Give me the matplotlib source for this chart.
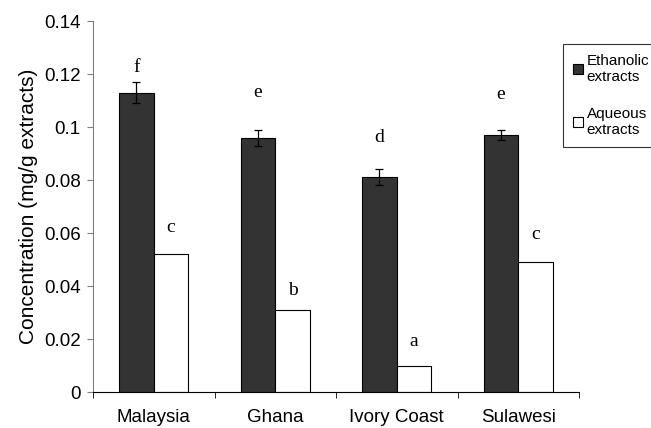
import numpy as np
import matplotlib.pyplot as plt
from matplotlib.patches import Rectangle
from matplotlib.legend_handler import HandlerPatch
from matplotlib.ticker import FixedLocator

# Concentration by origin, mg/g extracts
origins = ['Malaysia', 'Ghana', 'Ivory Coast', 'Sulawesi']
ethanolic = [0.113, 0.096, 0.081, 0.097]
ethanolic_err = [0.004, 0.003, 0.003, 0.002]
aqueous = [0.052, 0.031, 0.010, 0.049]
ethanolic_letters = ['f', 'e', 'd', 'e']
aqueous_letters = ['c', 'b', 'a', 'c']
ethanolic_letter_y = [0.1209, 0.1115, 0.0943, 0.1104]
aqueous_letter_y = [0.0602, 0.0366, 0.0175, 0.0579]

fig = plt.figure(figsize=(6.51, 4.28), dpi=100)
ax = fig.add_axes([0.1429, 0.0841, 0.7465, 0.8668])

x = np.arange(len(origins))
w = 0.285
ax.bar(x - w / 2, ethanolic, w, color='#333333', edgecolor='black', linewidth=0.8,
       label='Ethanolic\nextracts', zorder=2)
ax.bar(x + w / 2, aqueous, w, color='white', edgecolor='black', linewidth=0.8,
       label='Aqueous\nextracts', zorder=2)
ax.errorbar(x - w / 2, ethanolic, yerr=ethanolic_err, fmt='none', ecolor='black',
            elinewidth=0.9, capsize=3, capthick=0.9, zorder=3)

# significance letters
for i in range(len(origins)):
    ax.text(x[i] - w / 2, ethanolic_letter_y[i], ethanolic_letters[i], ha='center',
            va='baseline', fontsize=14, family='Liberation Serif')
    ax.text(x[i] + w / 2, aqueous_letter_y[i], aqueous_letters[i], ha='center',
            va='baseline', fontsize=14, family='Liberation Serif')

ax.set_xlim(-0.5, len(origins) - 0.5)
ax.set_ylim(0, 0.14)
ax.set_yticks(np.arange(0, 0.141, 0.02))
ax.set_yticklabels(['0', '0.02', '0.04', '0.06', '0.08', '0.1', '0.12', '0.14'])
ax.set_xticks(x)
ax.set_xticklabels(origins)
ax.xaxis.set_minor_locator(FixedLocator(np.arange(-0.5, len(origins), 1.0)))
ax.tick_params(axis='x', which='major', length=0, pad=12, labelsize=13.5)
ax.tick_params(axis='x', which='minor', length=4, direction='out', color='black')
ax.tick_params(axis='y', length=4, color='#808080', labelsize=13.5, pad=5)
for lab in ax.get_xticklabels() + ax.get_yticklabels():
    lab.set_family('Liberation Sans')

ax.spines['top'].set_visible(False)
ax.spines['right'].set_visible(False)
ax.spines['left'].set_color('#808080')
ax.spines['bottom'].set_color('black')
ax.set_ylabel('Concentration (mg/g extracts)', fontsize=15, family='Liberation Sans',
              labelpad=4)


# legend swatch sits beside the first line of each two-line label
def top_swatch(legend, orig_handle, xdescent, ydescent, width, height, fontsize):
    return Rectangle((-xdescent, -ydescent + 1.2 * fontsize), width, height)


leg = fig.legend(loc='upper left', bbox_to_anchor=(0.8648, 0.8972), borderaxespad=0,
                 frameon=True, fancybox=False, edgecolor='black',
                 handlelength=0.65, handleheight=0.65, handletextpad=0.25,
                 labelspacing=1.5, borderpad=0.65,
                 handler_map={Rectangle: HandlerPatch(patch_func=top_swatch)},
                 prop={'family': 'Liberation Sans', 'size': 11})
leg.get_frame().set_linewidth(0.8)

fig.savefig('out.png', dpi=100)
